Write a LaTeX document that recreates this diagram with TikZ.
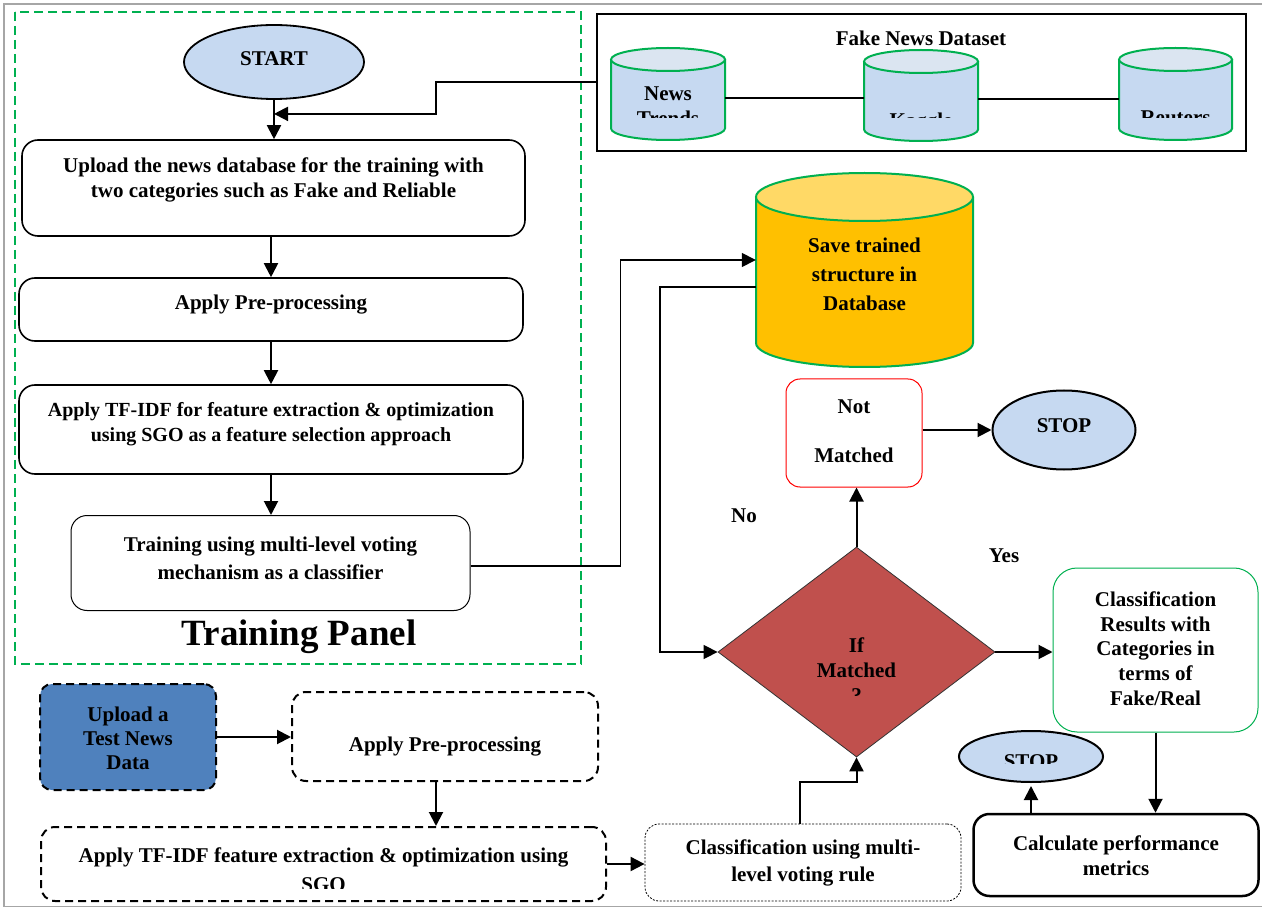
\documentclass[tikz,border=0pt]{standalone}
\usepackage{fontspec}
\setmainfont{Liberation Serif}
\usetikzlibrary{arrows.meta,shapes.geometric}
\definecolor{startblue}{HTML}{C6D9F1}
\definecolor{cyltop}{HTML}{DBE5F1}
\definecolor{gr}{HTML}{00B050}
\definecolor{gold}{HTML}{FFC000}
\definecolor{goldtop}{HTML}{FFD966}
\definecolor{redd}{HTML}{C0504D}
\definecolor{testblue}{HTML}{4F81BD}
\newcommand{\mycyl}[7]{%
  \pgfmathsetmacro{\cylcx}{(#1+#2)/2}%
  \pgfmathsetmacro{\cylrx}{(#2-#1)/2}%
  \fill[#6] (#1,#3+#5) -- (#1,#4-#5) arc[start angle=180,end angle=360,x radius=\cylrx pt,y radius=#5pt] -- (#2,#3+#5) -- cycle;
  \draw[gr,line width=2pt] (#1,#3+#5) -- (#1,#4-#5) arc[start angle=180,end angle=360,x radius=\cylrx pt,y radius=#5pt] -- (#2,#3+#5);
  \filldraw[fill=#7,draw=gr,line width=2pt] (\cylcx,#3+#5) ellipse[x radius=\cylrx pt,y radius=#5pt];
}
\begin{document}
\begin{tikzpicture}[x=1pt,y=-1pt,
  txt/.style={font=\bfseries\fontsize{21}{25}\selectfont, align=center, inner sep=0pt},
  pbox/.style={draw, line width=1.6pt, rounded corners=16pt, inner sep=0pt},
  ellnode/.style={ellipse, draw, line width=1.8pt, fill=startblue, inner sep=0pt},
  testbox/.style={draw, line width=2pt, dash pattern=on 8pt off 5pt, rounded corners=14pt, inner sep=0pt},
  hold/.style={inner sep=0pt},
  arr/.style={line width=2pt, -{Triangle[length=14pt,width=14pt]}},
  arrthin/.style={line width=1.5pt, -{Triangle[length=14pt,width=14pt]}}
]
\useasboundingbox (0,0) rectangle (1262,909);
\fill[white] (0,0) rectangle (1262,909);
% outer frame
\draw[gray!70, line width=1.5pt] (1262,4) -- (4,4) -- (4,906.5) -- (1262,906.5);
% training panel
\draw[gr, line width=1.5pt, dash pattern=on 9pt off 5pt] (15,12) rectangle (581,664);

\node[ellnode, minimum width=180pt, minimum height=74pt] (start) at (274,62) {};
\node[txt] (startT) at (274,59) {START};

\node[pbox, minimum width=503pt, minimum height=96pt] (upload) at (273.5,188) {};
\node[txt] (uploadT) at (273.5,180) {Upload the news database for the training with\\two categories such as Fake and Reliable};

\node[pbox, minimum width=504pt, minimum height=63pt] (prep) at (271,309.5) {};
\node[txt] (prepT) at (271,305) {Apply Pre-processing};

\node[pbox, minimum width=504pt, minimum height=89pt] (tfidf) at (271,429.5) {};
\node[txt, font=\bfseries\fontsize{20}{25}\selectfont] (tfidfT) at (271,424) {Apply TF-IDF for feature extraction \& optimization\\using SGO as a feature selection approach};

\node[pbox, line width=1pt, minimum width=399pt, minimum height=95pt] (train) at (270.5,563) {};
\node[txt, font=\bfseries\fontsize{21}{28}\selectfont] (trainT) at (270.5,558) {Training using multi-level voting\\mechanism as a classifier};

\node[inner sep=0pt, font=\bfseries\fontsize{37}{40}\selectfont] (panelT) at (299,637) {Training Panel};

% dataset
\node[draw, line width=2pt, minimum width=649pt, minimum height=137pt, inner sep=0pt] (dsbox) at (921,82.5) {};
\node[txt] (dsT) at (921,38) {Fake News Dataset};
\mycyl{611}{725}{48}{140}{11.5}{startblue}{cyltop}
\mycyl{864}{978}{50}{141}{11.5}{startblue}{cyltop}
\mycyl{1119}{1232}{48}{140}{11.5}{startblue}{cyltop}
\node[hold, minimum width=114pt, minimum height=92pt] (news) at (668,94) {};
\node[hold, minimum width=114pt, minimum height=91pt] (kaggle) at (921,95.5) {};
\node[hold, minimum width=113pt, minimum height=92pt] (reuters) at (1175.5,94) {};
\begin{scope}
\clip (611,40) rectangle (725,117.5);
\node[txt, anchor=north] (newsT) at (668,87) {News\\Trends};
\end{scope}
\begin{scope}
\clip (864,40) rectangle (978,118);
\node[txt, anchor=north] (kaggleT) at (921,113) {Kaggle};
\end{scope}
\begin{scope}
\clip (1119,40) rectangle (1232,118);
\node[txt, anchor=north] (reutersT) at (1175.5,111) {Reuters};
\end{scope}
\draw[line width=1.5pt] ([yshift=-4pt]news.east) -- ([yshift=-4pt]news.east -| kaggle.west);
\draw[line width=1.5pt] ([yshift=-3.5pt]kaggle.east) -- ([yshift=-3.5pt]kaggle.east -| reuters.west);

% save cylinder
\mycyl{756}{973}{173}{367}{24}{gold}{goldtop}
\node[hold, minimum width=217pt, minimum height=194pt] (save) at (864.5,270) {};
\node[txt, font=\bfseries\fontsize{21}{29}\selectfont] (saveT) at (864.5,274) {Save trained\\structure in\\Database};

% decision part
\node[draw=red, line width=1pt, rounded corners=14pt, minimum width=136pt, minimum height=108pt, inner sep=0pt] (notm) at (854,433) {};
\node[txt] (notmT) at (854,431.5) {Not\\[24pt]Matched};

\node[ellnode, line width=2pt, minimum width=143pt, minimum height=79pt] (stop1) at (1064,430) {};
\node[txt] (stop1T) at (1064,426) {STOP};

\node[diamond, draw=black!80, line width=0.8pt, fill=redd, minimum width=277pt, minimum height=210pt, inner sep=0pt] (dia) at (856.5,652) {};
\begin{scope}
\clip (718,547) rectangle (995,695.7);
\node[txt, anchor=north] (diaT) at (856.5,638) {If\\Matched\\?};
\end{scope}

\node[txt] (noT) at (744,515.5) {No};
\node[txt] (yesT) at (1004,555.5) {Yes};

\node[draw=gr, line width=1pt, rounded corners=24pt, minimum width=205pt, minimum height=164pt, inner sep=0pt] (res) at (1155.5,650) {};
\node[txt, font=\bfseries\fontsize{21}{24.7}\selectfont] (resT) at (1155.5,648.5) {Classification\\Results with\\Categories in\\terms of\\Fake/Real};

\node[pbox, line width=2.5pt, minimum width=285pt, minimum height=82pt] (calc) at (1116,855) {};
\node[txt] (calcT) at (1116,855.5) {Calculate performance\\metrics};

\node[ellnode, line width=2pt, minimum width=144pt, minimum height=51pt] (stop2) at (1031,756.5) {};
\begin{scope}
\clip (959,731) rectangle (1103,763);
\node[txt, anchor=north] (stop2T) at (1031,754) {STOP};
\end{scope}

\node[draw, line width=0.8pt, dash pattern=on 2pt off 1.5pt, rounded corners=14pt, minimum width=316pt, minimum height=77pt, inner sep=0pt] (cls) at (803,862.5) {};
\node[txt, font=\bfseries\fontsize{21}{27}\selectfont] (clsT) at (803,862.5) {Classification using multi-\\level voting rule};

% test panel
\node[testbox, fill=testblue, rounded corners=12pt, minimum width=176pt, minimum height=106pt] (uptest) at (128,737) {};
\node[txt, font=\bfseries\fontsize{21}{24}\selectfont] (uptestT) at (128,738.5) {Upload a\\Test News\\Data};
\node[testbox, minimum width=306pt, minimum height=89pt] (preptest) at (445,736.5) {};
\node[txt] (preptestT) at (445,747) {Apply Pre-processing};
\node[testbox, minimum width=565pt, minimum height=74pt] (tftest) at (323.5,864) {};
\begin{scope}
\clip (41,827) rectangle (606,888);
\node[txt, font=\bfseries\fontsize{21}{29}\selectfont, anchor=north] (tftestT) at (323.5,848) {Apply TF-IDF feature extraction \& optimization using\\SGO};
\end{scope}

% connectors
\path (start.south) ++(0,14) coordinate (j);
\draw[arr] (start.south) -- (start.south |- upload.north);
\draw[arr] (dsbox.west) -- ++(-160,0) |- (j);
\draw[arr] (prep.north |- upload.south) -- (prep.north);
\draw[arr] (prep.south) -- (tfidf.north);
\draw[arr] (tfidf.south) -- (tfidf.south |- train.north);
\draw[arrthin] ([yshift=-3pt]train.east) -- ++(150,0) |- ([yshift=10pt]save.west);
\draw[arrthin] ([yshift=-17pt]save.west) -- ++(-96,0) |- (dia.west);
\draw[arr] (dia.north) -- (dia.north |- notm.south);
\draw[arr] (notm.east |- stop1.west) -- (stop1.west);
\draw[arr] (dia.east) -- (dia.east -| res.west);
\draw[arr] (res.south) -- (res.south |- calc.north);
\draw[arr] (stop2.south |- calc.north) -- ([yshift=-3pt]stop2.south);
\draw[arr] ([xshift=-3pt]cls.north) -- ++(0,-42) -| (dia.south);
\draw[arr] (uptest.east) -- (uptest.east -| preptest.west);
\draw[arr] ([xshift=-9pt]preptest.south) -- ([xshift=-9pt]preptest.south |- tftest.north);
\draw[arr] (tftest.east) -- (tftest.east -| cls.west);
\end{tikzpicture}
\end{document}
